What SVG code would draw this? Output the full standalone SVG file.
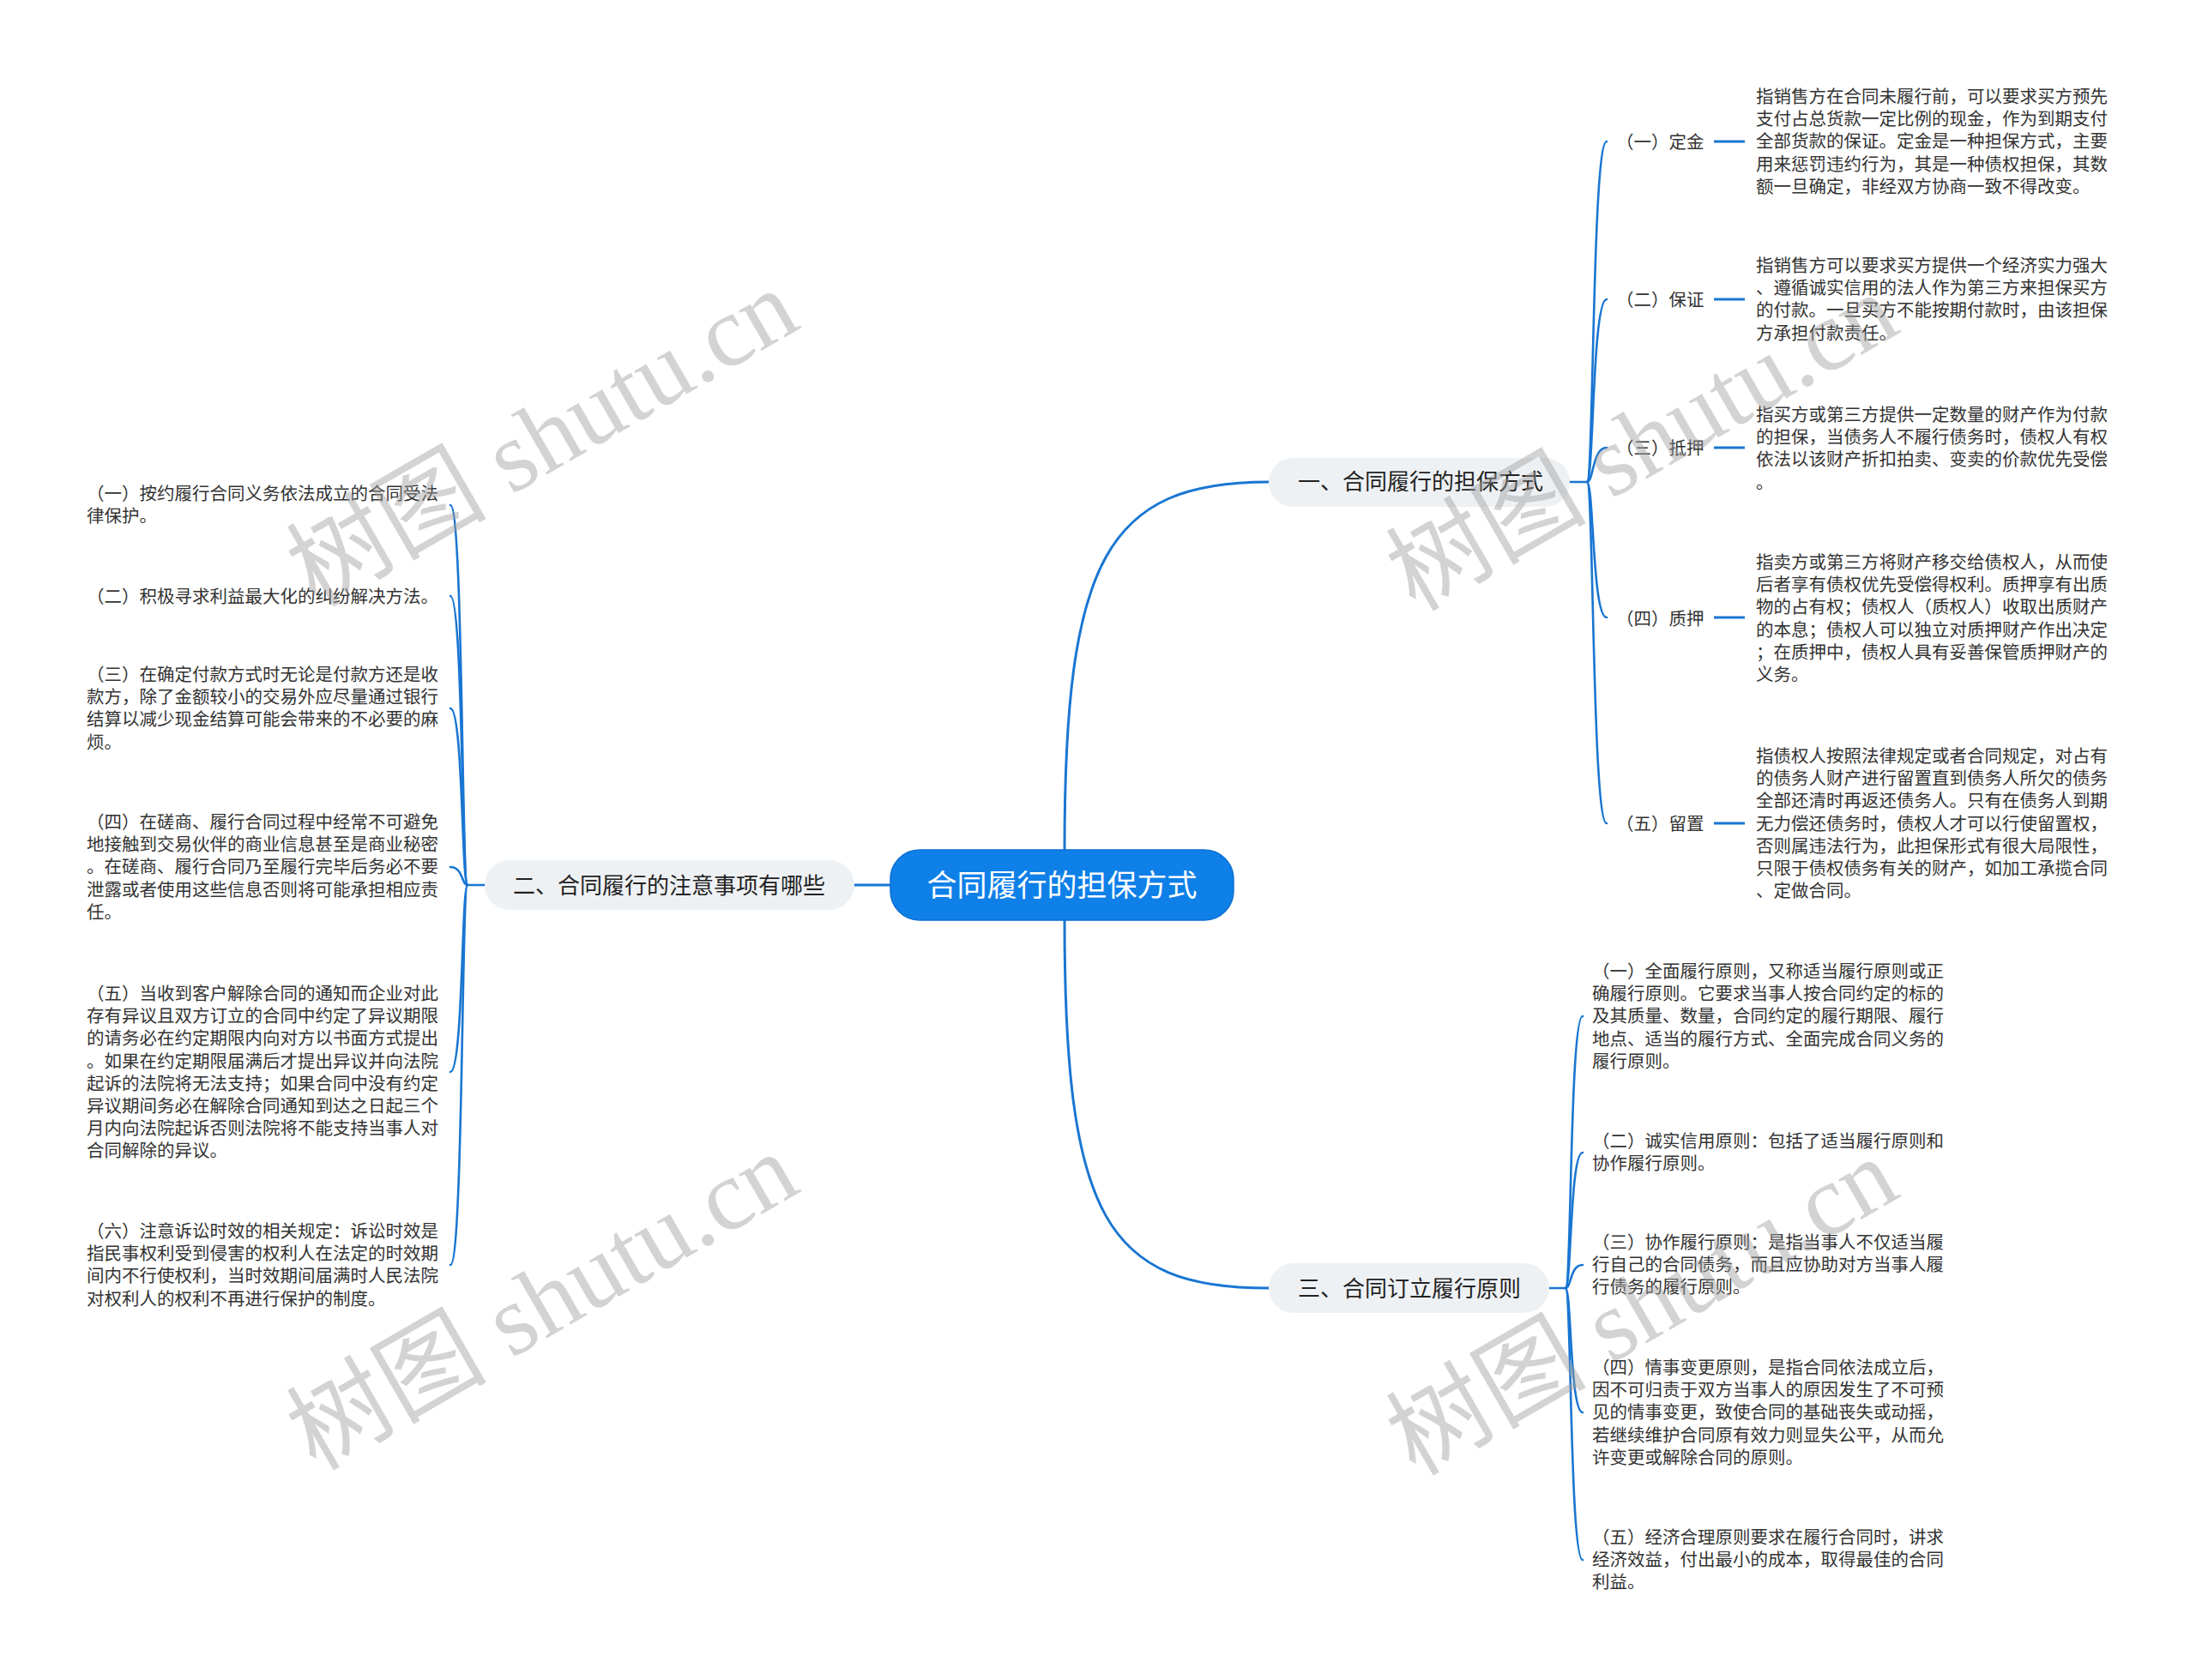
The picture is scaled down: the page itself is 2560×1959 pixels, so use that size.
<svg xmlns="http://www.w3.org/2000/svg" width="2560" height="1959" viewBox="0 0 2560 1959">
<defs>
<style>
.bg{fill:#ffffff}
.conn{fill:none;stroke:#1976d2;stroke-width:3;stroke-linecap:round}
.br{fill:none;stroke:#1976d2;stroke-width:2.6;stroke-linecap:round}
.tick{fill:none;stroke:#1976d2;stroke-width:3.2}
.root{fill:#0f80e8;stroke:#0b6fd2;stroke-width:1.5}
.rootT{font-family:"Noto Sans CJK SC","Noto Sans",sans-serif;font-size:35px;fill:#ffffff;text-anchor:middle}
.sub{fill:#eef1f4}
.subT{font-family:"Noto Sans CJK SC","Noto Sans",sans-serif;font-size:26px;fill:#222222;text-anchor:middle}
.t{font-family:"Noto Sans CJK SC","Noto Sans",sans-serif;font-size:20.5px;fill:#333333}
.wm{font-family:"Liberation Serif","Noto Sans CJK SC",serif;font-size:117px;fill:#9e9e9e;opacity:0.45;text-anchor:middle}
</style>
</defs>
<rect class="bg" x="0" y="0" width="2560" height="1959"/>

<g id="connectors">
<path class="conn" d="M1241 991 C1241 653 1290 562 1479 562"/>
<path class="conn" d="M1241 1073 C1241 1420 1290 1502 1479 1502"/>
<path class="conn" d="M1038 1032 L996 1032"/>
<!-- branch 1 bracket -->
<path class="br" d="M1830 562 L1850 562"/>
<path class="br" d="M1850 562 C1858 562 1856 165 1873 165"/>
<path class="br" d="M1850 562 C1858 562 1856 349 1873 349"/>
<path class="br" d="M1850 562 C1858 562 1856 522 1873 522"/>
<path class="br" d="M1850 562 C1858 562 1856 720 1873 720"/>
<path class="br" d="M1850 562 C1858 562 1856 960 1873 960"/>
<path class="tick" d="M1998 165 L2034 165"/>
<path class="tick" d="M1998 349 L2034 349"/>
<path class="tick" d="M1998 522 L2034 522"/>
<path class="tick" d="M1998 720 L2034 720"/>
<path class="tick" d="M1998 960 L2034 960"/>
<!-- branch 3 bracket -->
<path class="br" d="M1806 1502 L1825 1502"/>
<path class="br" d="M1825 1502 C1832 1502 1830 1185 1845 1185"/>
<path class="br" d="M1825 1502 C1832 1502 1830 1344 1845 1344"/>
<path class="br" d="M1825 1502 C1832 1502 1830 1475 1845 1475"/>
<path class="br" d="M1825 1502 C1832 1502 1830 1647 1845 1647"/>
<path class="br" d="M1825 1502 C1832 1502 1830 1819 1845 1819"/>
<!-- branch 2 bracket -->
<path class="br" d="M565 1032 L545 1032"/>
<path class="br" d="M545 1032 C538 1032 540 589 525 589"/>
<path class="br" d="M545 1032 C538 1032 540 695 525 695"/>
<path class="br" d="M545 1032 C538 1032 540 826 525 826"/>
<path class="br" d="M545 1032 C538 1032 540 1011 525 1011"/>
<path class="br" d="M545 1032 C538 1032 540 1250 525 1250"/>
<path class="br" d="M545 1032 C538 1032 540 1475 525 1475"/>
</g>

<g id="root">
<rect class="root" x="1038" y="991" width="400" height="82" rx="34"/>
<text class="rootT" x="1238" y="1045">合同履行的担保方式</text>
</g>

<g id="b1">
<rect class="sub" x="1479" y="534" width="351" height="57" rx="28.5"/>
<text class="subT" x="1656" y="571">一、合同履行的担保方式</text>
</g>
<g id="b2">
<rect class="sub" x="565" y="1003" width="431" height="58" rx="29"/>
<text class="subT" x="780" y="1041.5">二、合同履行的注意事项有哪些</text>
</g>
<g id="b3">
<rect class="sub" x="1479" y="1473" width="327" height="58" rx="29"/>
<text class="subT" x="1643" y="1511.5">三、合同订立履行原则</text>
</g>

<g id="b1-1">
<text class="t" x="1884" y="172.5">（一）定金</text>
<text class="t" x="2047" y="120"><tspan x="2047">指销售方在合同未履行前，可以要求买方预先</tspan><tspan x="2047" dy="26.2">支付占总货款一定比例的现金，作为到期支付</tspan><tspan x="2047" dy="26.2">全部货款的保证。定金是一种担保方式，主要</tspan><tspan x="2047" dy="26.2">用来惩罚违约行为，其是一种债权担保，其数</tspan><tspan x="2047" dy="26.2">额一旦确定，非经双方协商一致不得改变。</tspan></text>
</g>
<g id="b1-2">
<text class="t" x="1884" y="356.5">（二）保证</text>
<text class="t" x="2047" y="317"><tspan x="2047">指销售方可以要求买方提供一个经济实力强大</tspan><tspan x="2047" dy="26.2">、遵循诚实信用的法人作为第三方来担保买方</tspan><tspan x="2047" dy="26.2">的付款。一旦买方不能按期付款时，由该担保</tspan><tspan x="2047" dy="26.2">方承担付款责任。</tspan></text>
</g>
<g id="b1-3">
<text class="t" x="1884" y="529.5">（三）抵押</text>
<text class="t" x="2047" y="491"><tspan x="2047">指买方或第三方提供一定数量的财产作为付款</tspan><tspan x="2047" dy="26.2">的担保，当债务人不履行债务时，债权人有权</tspan><tspan x="2047" dy="26.2">依法以该财产折扣拍卖、变卖的价款优先受偿</tspan><tspan x="2047" dy="26.2">。</tspan></text>
</g>
<g id="b1-4">
<text class="t" x="1884" y="728.5">（四）质押</text>
<text class="t" x="2047" y="663"><tspan x="2047">指卖方或第三方将财产移交给债权人，从而使</tspan><tspan x="2047" dy="26.2">后者享有债权优先受偿得权利。质押享有出质</tspan><tspan x="2047" dy="26.2">物的占有权；债权人（质权人）收取出质财产</tspan><tspan x="2047" dy="26.2">的本息；债权人可以独立对质押财产作出决定</tspan><tspan x="2047" dy="26.2">；在质押中，债权人具有妥善保管质押财产的</tspan><tspan x="2047" dy="26.2">义务。</tspan></text>
</g>
<g id="b1-5">
<text class="t" x="1884" y="967.5">（五）留置</text>
<text class="t" x="2047" y="889"><tspan x="2047">指债权人按照法律规定或者合同规定，对占有</tspan><tspan x="2047" dy="26.2">的债务人财产进行留置直到债务人所欠的债务</tspan><tspan x="2047" dy="26.2">全部还清时再返还债务人。只有在债务人到期</tspan><tspan x="2047" dy="26.2">无力偿还债务时，债权人才可以行使留置权，</tspan><tspan x="2047" dy="26.2">否则属违法行为，此担保形式有很大局限性，</tspan><tspan x="2047" dy="26.2">只限于债权债务有关的财产，如加工承揽合同</tspan><tspan x="2047" dy="26.2">、定做合同。</tspan></text>
</g>

<g id="b2-1">
<text class="t" x="101" y="583"><tspan x="101">（一）按约履行合同义务依法成立的合同受法</tspan><tspan x="101" dy="26.2">律保护。</tspan></text>
</g>
<g id="b2-2">
<text class="t" x="101" y="702.5">（二）积极寻求利益最大化的纠纷解决方法。</text>
</g>
<g id="b2-3">
<text class="t" x="101" y="794"><tspan x="101">（三）在确定付款方式时无论是付款方还是收</tspan><tspan x="101" dy="26.2">款方，除了金额较小的交易外应尽量通过银行</tspan><tspan x="101" dy="26.2">结算以减少现金结算可能会带来的不必要的麻</tspan><tspan x="101" dy="26.2">烦。</tspan></text>
</g>
<g id="b2-4">
<text class="t" x="101" y="966"><tspan x="101">（四）在磋商、履行合同过程中经常不可避免</tspan><tspan x="101" dy="26.2">地接触到交易伙伴的商业信息甚至是商业秘密</tspan><tspan x="101" dy="26.2">。在磋商、履行合同乃至履行完毕后务必不要</tspan><tspan x="101" dy="26.2">泄露或者使用这些信息否则将可能承担相应责</tspan><tspan x="101" dy="26.2">任。</tspan></text>
</g>
<g id="b2-5">
<text class="t" x="101" y="1166"><tspan x="101">（五）当收到客户解除合同的通知而企业对此</tspan><tspan x="101" dy="26.2">存有异议且双方订立的合同中约定了异议期限</tspan><tspan x="101" dy="26.2">的请务必在约定期限内向对方以书面方式提出</tspan><tspan x="101" dy="26.2">。如果在约定期限届满后才提出异议并向法院</tspan><tspan x="101" dy="26.2">起诉的法院将无法支持；如果合同中没有约定</tspan><tspan x="101" dy="26.2">异议期间务必在解除合同通知到达之日起三个</tspan><tspan x="101" dy="26.2">月内向法院起诉否则法院将不能支持当事人对</tspan><tspan x="101" dy="26.2">合同解除的异议。</tspan></text>
</g>
<g id="b2-6">
<text class="t" x="101" y="1443"><tspan x="101">（六）注意诉讼时效的相关规定：诉讼时效是</tspan><tspan x="101" dy="26.2">指民事权利受到侵害的权利人在法定的时效期</tspan><tspan x="101" dy="26.2">间内不行使权利，当时效期间届满时人民法院</tspan><tspan x="101" dy="26.2">对权利人的权利不再进行保护的制度。</tspan></text>
</g>

<g id="b3-1">
<text class="t" x="1856" y="1140"><tspan x="1856">（一）全面履行原则，又称适当履行原则或正</tspan><tspan x="1856" dy="26.2">确履行原则。它要求当事人按合同约定的标的</tspan><tspan x="1856" dy="26.2">及其质量、数量，合同约定的履行期限、履行</tspan><tspan x="1856" dy="26.2">地点、适当的履行方式、全面完成合同义务的</tspan><tspan x="1856" dy="26.2">履行原则。</tspan></text>
</g>
<g id="b3-2">
<text class="t" x="1856" y="1338"><tspan x="1856">（二）诚实信用原则：包括了适当履行原则和</tspan><tspan x="1856" dy="26.2">协作履行原则。</tspan></text>
</g>
<g id="b3-3">
<text class="t" x="1856" y="1456"><tspan x="1856">（三）协作履行原则：是指当事人不仅适当履</tspan><tspan x="1856" dy="26.2">行自己的合同债务，而且应协助对方当事人履</tspan><tspan x="1856" dy="26.2">行债务的履行原则。</tspan></text>
</g>
<g id="b3-4">
<text class="t" x="1856" y="1602"><tspan x="1856">（四）情事变更原则，是指合同依法成立后，</tspan><tspan x="1856" dy="26.2">因不可归责于双方当事人的原因发生了不可预</tspan><tspan x="1856" dy="26.2">见的情事变更，致使合同的基础丧失或动摇，</tspan><tspan x="1856" dy="26.2">若继续维护合同原有效力则显失公平，从而允</tspan><tspan x="1856" dy="26.2">许变更或解除合同的原则。</tspan></text>
</g>
<g id="b3-5">
<text class="t" x="1856" y="1800"><tspan x="1856">（五）经济合理原则要求在履行合同时，讲求</tspan><tspan x="1856" dy="26.2">经济效益，付出最小的成本，取得最佳的合同</tspan><tspan x="1856" dy="26.2">利益。</tspan></text>
</g>

<g id="watermarks">
<text class="wm" transform="translate(652 545) rotate(-30)">树图 shutu.cn</text>
<text class="wm" transform="translate(1934 550) rotate(-30)">树图 shutu.cn</text>
<text class="wm" transform="translate(652 1552) rotate(-30)">树图 shutu.cn</text>
<text class="wm" transform="translate(1934 1558) rotate(-30)">树图 shutu.cn</text>
</g>
</svg>
